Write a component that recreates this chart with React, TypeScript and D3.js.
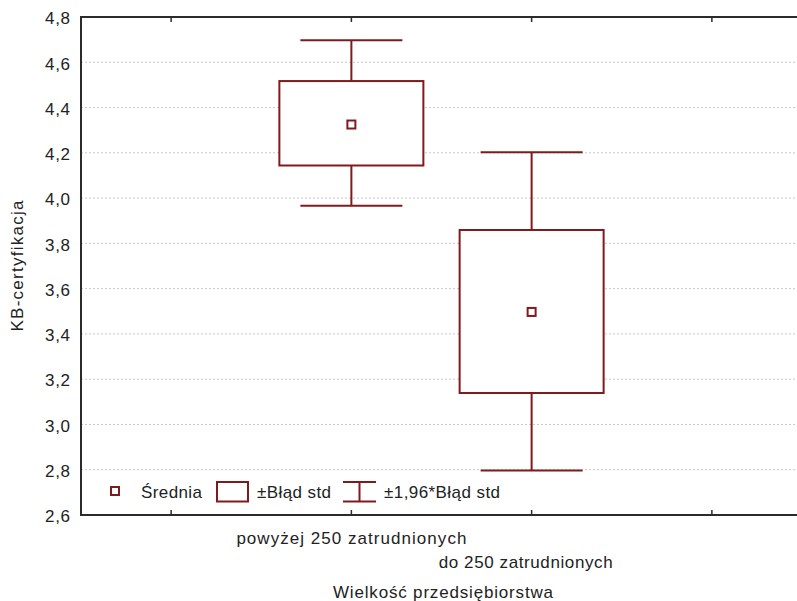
import React from "react";
import * as d3 from "d3";

const categories = ["powyżej 250 zatrudnionych", "do 250 zatrudnionych"];
const categoryWidths = [230, 174];
const categoryShift = [0, -6];
const means = [4.325, 3.497];
const boxLow = [4.144, 3.139];
const boxHigh = [4.517, 3.859];
const whiskerLow = [3.966, 2.797];
const whiskerHigh = [4.697, 4.203];
const yTicks = [2.6, 2.8, 3.0, 3.2, 3.4, 3.6, 3.8, 4.0, 4.2, 4.4, 4.6, 4.8];
const xTickSlots = [0, 1, 2, 3];
const legendLabels = ["Średnia", "±Błąd std", "±1,96*Błąd std"];

const W = 797;
const H = 601;
const left = 81;
const right = 802;
const top = 17;
const bottom = 515;
const RED = "#7f1a1d";
const AXIS = "#2b2b2b";
const TXT = "#222";
const FONT = "'Liberation Sans', Arial, sans-serif";
const FS = 17;

export default function App() {
  const y = d3.scaleLinear().domain([2.6, 4.8]).range([bottom, top]);
  const x = d3.scaleLinear().domain([-0.5, 3.5]).range([left, right]);
  const catX = (i: number) => x(i + 1);
  const fmt = (v: number) => v.toFixed(1).replace(".", ",");
  const boxHalf = 72;
  const capHalf = 51;

  return (
    <svg
      width={W}
      height={H}
      style={{ position: "absolute", left: 0, top: 0, background: "#fff" }}
      fontFamily={FONT}
    >
      <rect x={0} y={0} width={W} height={H} fill="#fff" />
      {yTicks.slice(1, -1).map((t) => (
        <line
          key={"g" + t}
          x1={left}
          x2={right}
          y1={y(t)}
          y2={y(t)}
          stroke="#c8c8c8"
          strokeWidth={1}
          strokeDasharray="2,2"
        />
      ))}
      {categories.map((c, i) => {
        const cx = catX(i);
        return (
          <g key={c}>
            <line x1={cx} x2={cx} y1={y(whiskerHigh[i])} y2={y(boxHigh[i])} stroke={RED} strokeWidth={2} />
            <line x1={cx} x2={cx} y1={y(boxLow[i])} y2={y(whiskerLow[i])} stroke={RED} strokeWidth={2} />
            <line x1={cx - capHalf} x2={cx + capHalf} y1={y(whiskerHigh[i])} y2={y(whiskerHigh[i])} stroke={RED} strokeWidth={2} />
            <line x1={cx - capHalf} x2={cx + capHalf} y1={y(whiskerLow[i])} y2={y(whiskerLow[i])} stroke={RED} strokeWidth={2} />
            <rect
              x={cx - boxHalf}
              y={y(boxHigh[i])}
              width={boxHalf * 2}
              height={y(boxLow[i]) - y(boxHigh[i])}
              fill="#fff"
              stroke={RED}
              strokeWidth={2}
            />
            <rect x={cx - 4} y={y(means[i]) - 4} width={8} height={8} fill="#fff" stroke={RED} strokeWidth={2} />
          </g>
        );
      })}
      {/* frame */}
      <line x1={left} x2={right} y1={top} y2={top} stroke={AXIS} strokeWidth={2} />
      <line x1={left} x2={right} y1={bottom} y2={bottom} stroke={AXIS} strokeWidth={2} />
      <line x1={left} x2={left} y1={top - 1} y2={bottom + 1} stroke={AXIS} strokeWidth={2} />
      {xTickSlots.map((s) => (
        <g key={"t" + s}>
          <line x1={x(s)} x2={x(s)} y1={top} y2={top + 5} stroke={AXIS} strokeWidth={1.5} />
          <line x1={x(s)} x2={x(s)} y1={bottom} y2={bottom - 5} stroke={AXIS} strokeWidth={1.5} />
        </g>
      ))}
      {yTicks.map((t) => (
        <text
          key={"l" + t}
          x={70}
          y={y(t)}
          dy="0.43em"
          textAnchor="end"
          fontSize={FS}
          fill={TXT}
          textLength={25}
          lengthAdjust="spacing"
        >
          {fmt(t)}
        </text>
      ))}
      {categories.map((c, i) => (
        <text
          key={"c" + c}
          x={catX(i) + categoryShift[i]}
          y={544 + i * 23.5}
          textAnchor="middle"
          fontSize={FS}
          fill={TXT}
          textLength={categoryWidths[i]}
          lengthAdjust="spacing"
        >
          {c}
        </text>
      ))}
      <text
        x={443}
        y={598}
        textAnchor="middle"
        fontSize={FS}
        fill={TXT}
        textLength={220}
        lengthAdjust="spacing"
      >
        Wielkość przedsiębiorstwa
      </text>
      <text
        transform={`translate(23, ${(top + bottom) / 2}) rotate(-90)`}
        textAnchor="middle"
        fontSize={FS}
        fill={TXT}
        textLength={131}
        lengthAdjust="spacing"
      >
        KB-certyfikacja
      </text>
      {/* legend */}
      <g>
        <rect x={111} y={487} width={8} height={8} fill="#fff" stroke={RED} strokeWidth={2} />
        <text x={141} y={497.5} fontSize={FS} fill={TXT} textLength={61} lengthAdjust="spacing">
          {legendLabels[0]}
        </text>
        <rect x={217} y={482} width={31} height={19.5} fill="#fff" stroke={RED} strokeWidth={2} />
        <text x={257} y={497.5} fontSize={FS} fill={TXT} textLength={74} lengthAdjust="spacing">
          {legendLabels[1]}
        </text>
        <line x1={343} x2={376} y1={482} y2={482} stroke={RED} strokeWidth={2} />
        <line x1={343} x2={376} y1={501.5} y2={501.5} stroke={RED} strokeWidth={2} />
        <line x1={359.5} x2={359.5} y1={482} y2={501.5} stroke={RED} strokeWidth={2} />
        <text x={384} y={497.5} fontSize={FS} fill={TXT} textLength={116} lengthAdjust="spacing">
          {legendLabels[2]}
        </text>
      </g>
    </svg>
  );
}
